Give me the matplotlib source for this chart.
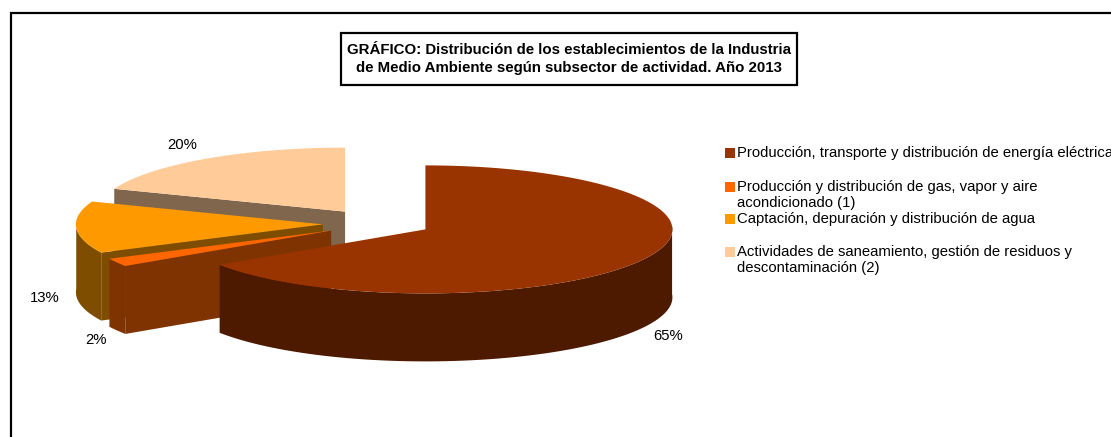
import numpy as np
import matplotlib
matplotlib.use('Agg')
import matplotlib.pyplot as plt
from matplotlib.patches import Rectangle

plt.rcParams['font.family'] = ['Liberation Sans', 'DejaVu Sans']

# Data
categories = ['Producción, transporte y distribución de energía eléctrica',
              'Producción y distribución de gas, vapor y aire\nacondicionado (1)',
              'Captación, depuración y distribución de agua',
              'Actividades de saneamiento, gestión de residuos y\ndescontaminación (2)']
values = [65, 2, 13, 20]
pct_labels = ['65%', '2%', '13%', '20%']
top_colors = ['#993300', '#ff6600', '#ff9900', '#ffcc99']
wall_colors = ['#4d1a00', '#7f3300', '#7f4d00', '#7f664c']

# Layout of the pie, in pixels
cx, cy = 377, 223
rx, ry = 247, 64
depth = 68
explode = 0.22
view_skew = 3  # the 3D view moves the slice edges by a few degrees
label_pos = [(668, 335), (96, 339), (45, 297), (182, 144)]
legend_y = [153, 186.5, 218.5, 251.5]


def rim(a0, a1, ox, oy, n=120):
    # points on the ellipse, angles clockwise from 12 o'clock
    t = np.radians(np.linspace(a0, a1, n))
    t = t - np.radians(view_skew) * np.sin(t)
    return ox + rx * np.sin(t), oy - ry * np.cos(t)


fig = plt.figure(figsize=(11.11, 4.37), dpi=100)
ax = fig.add_axes([0, 0, 1, 1])
ax.set_xlim(0, 1111)
ax.set_ylim(437, 0)
ax.axis('off')

# Start and end angle of each slice
shares = np.array(values) / np.sum(values) * 360
ends = np.cumsum(shares)
starts = ends - shares

# Painter's order: back slice first, main slice last
for i in [3, 2, 1, 0]:
    a0, a1 = starts[i], ends[i]
    mid = np.radians((a0 + a1) / 2)
    ox = cx + explode * rx * np.sin(mid)
    oy = cy - explode * ry * np.cos(mid)

    # radial wall facing the viewer
    if i != 0:
        ex, ey = rim(a0, a0, ox, oy, 1)
        ax.fill([ox, ex[0], ex[0], ox], [oy, ey[0], ey[0] + depth, oy + depth],
                color=wall_colors[i], lw=0)

    # outer wall, only the front half of the ellipse can be seen
    f0, f1 = max(a0, 90), min(a1, 270)
    if f1 > f0:
        x, y = rim(f0, f1, ox, oy)
        ax.fill(np.r_[x, x[::-1]], np.r_[y, y[::-1] + depth],
                color=wall_colors[i], lw=0)

    # top face
    x, y = rim(a0, a1, ox, oy)
    ax.fill(np.r_[ox, x], np.r_[oy, y], color=top_colors[i], lw=0)

for label, (x, y) in zip(pct_labels, label_pos):
    ax.text(x, y + 1, label, fontsize=10.75, ha='center', va='center', color='black')

# Legend
for name, color, y in zip(categories, top_colors, legend_y):
    ax.add_patch(Rectangle((725, y - 5), 10, 10, color=color, lw=0))
    ax.text(737, y - 6.5, name, fontsize=10.75, ha='left', va='top',
            color='black', linespacing=1.2, clip_on=True)

# Title box and outer frame
ax.add_patch(Rectangle((341, 33), 456, 52, fc='white', ec='black', lw=1.6))
ax.text(569, 59, 'GRÁFICO: Distribución de los establecimientos de la Industria\n'
        'de Medio Ambiente según subsector de actividad. Año 2013',
        fontsize=10.85, fontweight='bold', ha='center', va='center', linespacing=1.4)
ax.plot([11, 11, 1111], [437, 13, 13], color='black', lw=1.6, solid_joinstyle='miter')

fig.savefig('out.png', dpi=100)
